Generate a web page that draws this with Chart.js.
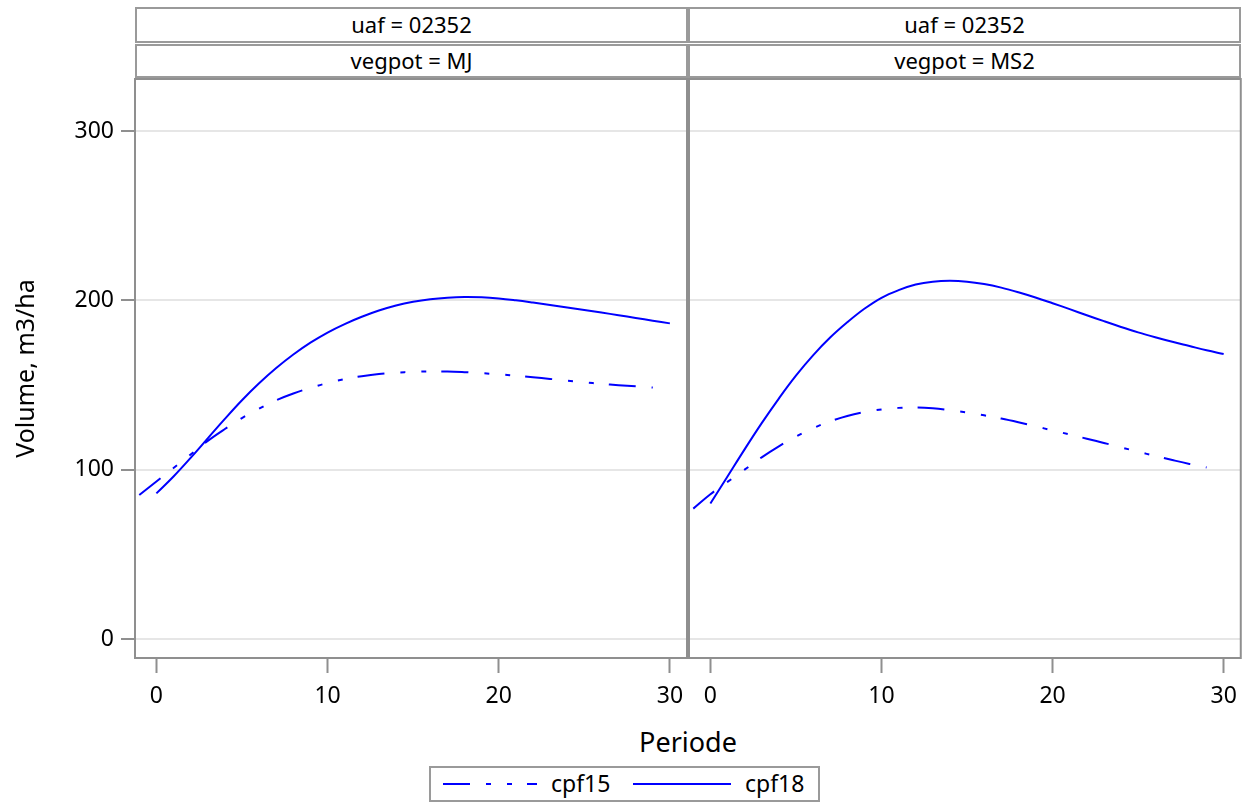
<!DOCTYPE html>
<html>
<head>
<meta charset="utf-8">
<title>Volume par periode</title>
<script src="https://cdn.jsdelivr.net/npm/chart.js@4.4.0/dist/chart.umd.min.js"></script>
<style>
  body { margin: 0; background: #fff; font-family: "Noto Sans", sans-serif; color: #000; }
  #wrap { position: relative; width: 1247px; height: 803px; overflow: hidden; }
  canvas { position: absolute; }
  .hdr {
    position: absolute; box-sizing: border-box; border: 2px solid #9a9a9a;
    text-align: center; font-size: 22px; background: #fff; white-space: nowrap;
  }
  .row1 { top: 7px; height: 36px; line-height: 31px; }
  .row2 { top: 44px; height: 34px; line-height: 29px; }
  #xtitle { position: absolute; left: 538px; width: 300px; top: 724px; text-align: center; font-size: 27px; line-height: 36px; }
  #legend {
    position: absolute; left: 429px; top: 766px; width: 391px; height: 36px;
    box-sizing: border-box; border: 2px solid #9a9a9a; font-size: 23px; line-height: 30px;
  }
  #legend svg { position: absolute; top: 0; left: 0; }
  #legend span { position: absolute; top: 0; }
</style>
</head>
<body>
<div id="wrap">
  <div class="hdr row1" style="left:135px;width:553px">uaf = 02352</div>
  <div class="hdr row2" style="left:135px;width:553px">vegpot = MJ</div>
  <div class="hdr row1" style="left:688px;width:553px">uaf = 02352</div>
  <div class="hdr row2" style="left:688px;width:553px">vegpot = MS2</div>

  <canvas id="chartMJ" width="708" height="682" style="left:0;top:40px"></canvas>
  <canvas id="chartMS2" width="559" height="682" style="left:688px;top:40px"></canvas>

  <div id="xtitle">Periode</div>

  <div id="legend">
    <svg width="387" height="32">
      <line x1="12" y1="16" x2="106" y2="16" stroke="#0000ff" stroke-width="2" stroke-dasharray="27 16 5 16 5 15"></line>
      <line x1="202" y1="16" x2="300" y2="16" stroke="#0000ff" stroke-width="2"></line>
    </svg>
    <span style="left:120px">cpf15</span>
    <span style="left:314px">cpf18</span>
  </div>
</div>

<script>
// ---------- Data ----------
const periods15 = [-1, 0, 1, 2, 3, 4, 5, 6, 7, 8, 9, 10, 11, 12, 13, 14, 15, 16, 17, 18, 19, 20, 21, 22, 23, 24, 25, 26, 27, 28, 29];
const periods18 = [0, 1, 2, 3, 4, 5, 6, 7, 8, 9, 10, 11, 12, 13, 14, 15, 16, 17, 18, 19, 20, 21, 22, 23, 24, 25, 26, 27, 28, 29, 30];

// vegpot = MJ
const mjCpf15 = [85, 93, 101, 109, 117, 124, 130.5, 136, 141, 145, 148.3, 151.2, 153.5, 155.2, 156.5, 157.3, 157.8, 158, 158, 157.6, 157, 156.3, 155.5, 154.6, 153.6, 152.6, 151.6, 150.7, 149.9, 149.2, 148.5];
const mjCpf18 = [86, 96, 107, 118.5, 130, 141, 151, 160, 168, 175, 181, 186, 190.3, 194, 197, 199.2, 200.7, 201.6, 202, 201.8, 201.1, 200, 198.7, 197.3, 195.8, 194.3, 192.8, 191.2, 189.6, 188, 186.4];

// vegpot = MS2
const ms2Cpf15 = [77, 85.5, 92.8, 100, 107.3, 113.8, 119.5, 124.5, 128.5, 131.7, 134, 135.6, 136.5, 136.8, 136.3, 135.2, 133.8, 132.1, 130.2, 128, 125.6, 123.2, 120.8, 118.3, 115.8, 113.2, 110.6, 108.1, 105.7, 103.4, 101.3];
const ms2Cpf18 = [80, 96, 112, 127.5, 142, 155.5, 167.5, 178, 187, 195, 201.5, 206, 209.3, 211, 211.5, 211, 209.6, 207.5, 204.8, 201.7, 198.3, 194.8, 191.2, 187.7, 184.3, 181.1, 178.2, 175.5, 173, 170.5, 168.3];

const xTicks = [0, 10, 20, 30];
const yTicks = [0, 100, 200, 300];

// ---------- Style ----------
const BLUE = '#0000ff';
const FRAME = '#8f8f8f';
const FONT = '"Noto Sans", sans-serif';
const DASH15 = [27, 16, 5, 16, 5, 15];

const toPoints = (xs, ys) => xs.map((x, i) => ({ x, y: ys[i] }));

// kotak abu-abu di sekeliling area plot
const framePlugin = {
  id: 'frame',
  afterDraw(chart) {
    const { ctx, chartArea: a } = chart;
    ctx.save();
    ctx.strokeStyle = FRAME;
    ctx.lineWidth = 2;
    ctx.strokeRect(a.left, a.top, a.right - a.left, a.bottom - a.top);
    ctx.restore();
  }
};

// padding dibuat lebih besar dari luapan label, supaya area plot tetap di posisi tetap
function makePanel(id, cpf15, cpf18, withYAxis) {
  const ctx = document.getElementById(id).getContext('2d');
  return new Chart(ctx, {
    type: 'line',
    data: {
      datasets: [
        { label: 'cpf15', data: toPoints(periods15, cpf15), borderColor: BLUE, borderWidth: 2, borderDash: DASH15, pointRadius: 0, tension: 0.4, fill: false },
        { label: 'cpf18', data: toPoints(periods18, cpf18), borderColor: BLUE, borderWidth: 2, pointRadius: 0, tension: 0.4, fill: false }
      ]
    },
    options: {
      responsive: false,
      animation: false,
      devicePixelRatio: 1,
      layout: { padding: withYAxis ? { top: 39, right: 21, left: 0, bottom: 0 } : { top: 39, right: 6, left: 1, bottom: 0 } },
      plugins: { legend: { display: false }, tooltip: { enabled: false } },
      scales: {
        x: {
          type: 'linear',
          min: -1.25,
          max: 31,
          afterBuildTicks: s => { s.ticks = xTicks.map(v => ({ value: v })); },
          afterFit: s => { s.height = 64; },
          grid: { drawOnChartArea: false, drawTicks: true, tickLength: 15, tickColor: FRAME, tickWidth: 2 },
          border: { display: false },
          ticks: { color: '#000', padding: 10, maxRotation: 0, font: { family: FONT, size: 23 } }
        },
        y: {
          type: 'linear',
          min: -11.2,
          max: 330.7,
          afterBuildTicks: s => { s.ticks = yTicks.map(v => ({ value: v })); },
          afterFit: s => { s.width = withYAxis ? 135 : 0; },
          grid: { color: '#e6e6e6', lineWidth: 2, drawTicks: withYAxis, tickLength: 14, tickColor: FRAME, tickWidth: 2 },
          border: { display: false },
          ticks: { display: withYAxis, color: '#000', padding: 7, font: { family: FONT, size: 23 } },
          title: { display: withYAxis, text: 'Volume, m3/ha', color: '#000', padding: { top: 12 }, font: { family: FONT, size: 25 } }
        }
      }
    },
    plugins: [framePlugin]
  });
}

makePanel('chartMJ', mjCpf15, mjCpf18, true);
makePanel('chartMS2', ms2Cpf15, ms2Cpf18, false);
</script>
</body>
</html>
